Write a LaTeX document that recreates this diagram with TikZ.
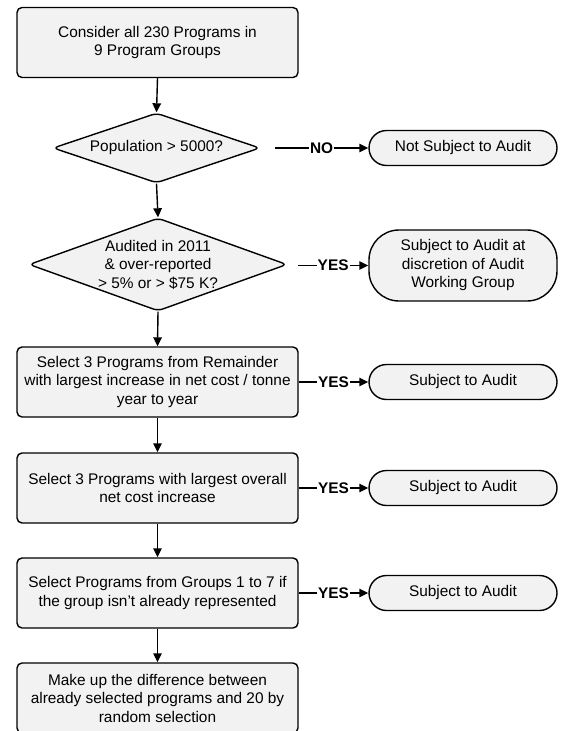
\documentclass[tikz,border=0pt]{standalone}
\usepackage{fontspec}
\setmainfont{Liberation Sans}
\usetikzlibrary{shapes.geometric,arrows.meta}
\begin{document}
\begin{tikzpicture}[x=1pt,y=-1pt,
  every node/.style={font=\fontsize{15.4}{18.5}\selectfont},
  box/.style={draw, fill=gray!10, line width=1.4pt, rounded corners=5pt,
    minimum width=281pt, minimum height=70pt, align=center, inner sep=0pt},
  dia/.style={draw, fill=gray!10, line width=1.4pt, diamond, rounded corners=5pt,
    inner sep=0pt},
  term/.style={draw, fill=gray!10, line width=1.4pt, rounded corners=17.5pt,
    minimum width=188pt, minimum height=35pt, align=center, inner sep=0pt},
  txt/.style={align=center, inner sep=0pt},
  lab/.style={fill=white, inner sep=1.2pt, font=\fontsize{15.4}{18.5}\selectfont\bfseries},
  arr/.style={line width=1.4pt, -{Triangle[length=9pt,width=8.5pt]}}
]
\useasboundingbox (0,0) rectangle (563,731);

% main column
\node[box] (b1) at (157.5,42.5) {Consider all 230 Programs in\\9 Program Groups};
\node[dia, minimum width=207pt, minimum height=70pt] (d1) at (156.5,148) {};
\node[txt] (d1t) at (d1.center) {Population > 5000?};
\node[dia, minimum width=258pt, minimum height=93pt] (d2) at (158,264.5) {};
\node[txt] (d2t) at (d2.center) {Audited in 2011\\\& over-reported\\> 5\% or > \$75 K?};
\node[box] (b3) at (157.5,382) {Select 3 Programs from Remainder\\with largest increase in net cost / tonne\\year to year};
\node[box] (b4) at (157.5,488) {Select 3 Programs with largest overall\\net cost increase};
\node[box] (b5) at (157.5,593) {Select Programs from Groups 1 to 7 if\\the group isn't already represented};
\node[box] (b6) at (157.5,698) {Make up the difference between\\already selected programs and 20 by\\random selection};

% right column
\node[term] (t1) at (463,148) {Not Subject to Audit};
\node[term, minimum height=71pt, rounded corners=30pt] (t2) at (463,265.5) {Subject to Audit at\\discretion of Audit\\Working Group};
\node[term] (t3) at (463,382) {Subject to Audit};
\node[term] (t4) at (463,488) {Subject to Audit};
\node[term] (t5) at (463,593) {Subject to Audit};

% free ends of the diamond branches
\coordinate (n1) at (275,148);
\coordinate (n2) at (298,265.5);

% vertical flow
\draw[arr] (b1.south) -- (d1.north);
\draw[arr] (d1.south) -- (d2.north);
\draw[arr] (d2.south) -- (b3.north);
\draw[arr] (b3.south) -- (b4.north);
\draw[arr] (b4.south) -- (b5.north);
\draw[arr] (b5.south) -- (b6.north);

% branches
\draw[arr] (n1) -- node[lab] (l1) {NO} (t1.west);
\draw[arr] (n2) -- node[lab] (l2) {YES} (t2.west);
\draw[arr] (b3.east) -- node[lab] (l3) {YES} (t3.west);
\draw[arr] (b4.east) -- node[lab] (l4) {YES} (t4.west);
\draw[arr] (b5.east) -- node[lab] (l5) {YES} (t5.west);
\end{tikzpicture}
\end{document}
